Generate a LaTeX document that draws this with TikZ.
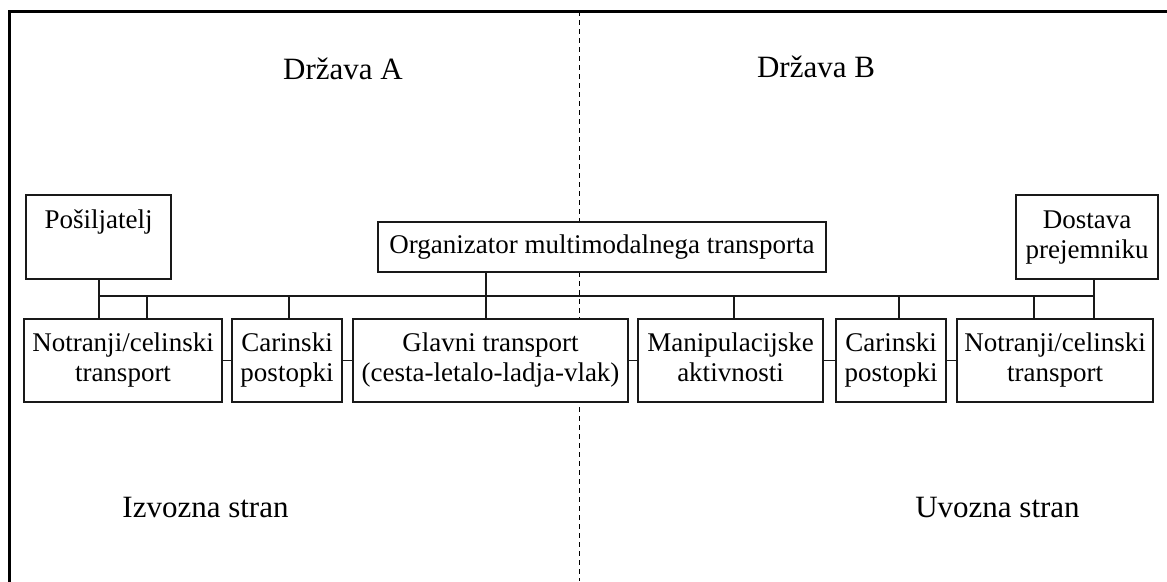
\documentclass[tikz,border=0pt]{standalone}
\usepackage{fontspec}
\setmainfont{Liberation Serif}
\begin{document}
\begin{tikzpicture}[x=1pt,y=-1pt,
  box/.style={draw=black!90, fill=white, line width=1.1pt, inner sep=0pt, align=center,
    font=\fontsize{27}{30}\selectfont},
  head/.style={anchor=base, inner sep=0pt, font=\fontsize{31}{36}\selectfont},
  conn/.style={draw=black!90, line width=1.1pt}]
\useasboundingbox (0,0) rectangle (1167,581);
\clip (0,0) rectangle (1167,581);
% frame and divider
\draw[line width=3pt] (9,1200) -- (9,11) -- (1300,11);
\draw[line width=0.9pt, dash pattern=on 5pt off 4pt] (579,11) -- (579,581);
% headings
\node[head] (dA) at (343,79) {Država A};
\node[head] (dB) at (816,77) {Država B};
\node[head] (iz) at (205.5,517) {Izvozna stran};
\node[head] (uv) at (997.5,517) {Uvozna stran};
% top boxes
\node[box, minimum width=145pt, minimum height=84pt] (pos) at (98.5,237) {\strut Pošiljatelj\\\strut};
\node[box, minimum width=448pt, minimum height=50pt] (org) at (602,247) {\strut Organizator multimodalnega transporta};
\node[box, minimum width=142pt, minimum height=84pt] (dos) at (1087,237) {\strut Dostava\\\strut prejemniku};
% bottom boxes
\node[box, minimum width=198pt, minimum height=83pt] (n1) at (123,360.5) {\strut Notranji/celinski\\\strut transport};
\node[box, minimum width=110pt, minimum height=83pt] (c1) at (287,360.5) {\strut Carinski\\\strut postopki};
\node[box, minimum width=275pt, minimum height=83pt] (gl) at (490.5,360.5) {\strut Glavni transport\\\strut (cesta-letalo-ladja-vlak)};
\node[box, minimum width=185pt, minimum height=83pt] (ma) at (730.5,360.5) {\strut Manipulacijske\\\strut aktivnosti};
\node[box, minimum width=110pt, minimum height=83pt] (c2) at (891,360.5) {\strut Carinski\\\strut postopki};
\node[box, minimum width=196pt, minimum height=83pt] (n2) at (1055,360.5) {\strut Notranji/celinski\\\strut transport};
% bus
\coordinate (bL) at (99,296);
\coordinate (bR) at (1094,296);
\draw[conn] (bL) -- (bR);
\coordinate (b1) at (147,296);
\coordinate (b2) at (289,296);
\coordinate (b3) at (486,296);
\coordinate (b4) at (734,296);
\coordinate (b5) at (899,296);
\coordinate (b6) at (1034,296);
\draw[conn] (pos.south -| bL) -- (bL |- n1.north);
\draw[conn] (b1) -- (b1 |- n1.north);
\draw[conn] (b2) -- (b2 |- c1.north);
\draw[conn] (org.south -| b3) -- (b3 |- gl.north);
\draw[conn] (b4) -- (b4 |- ma.north);
\draw[conn] (b5) -- (b5 |- c2.north);
\draw[conn] (b6) -- (b6 |- n2.north);
\draw[conn] (dos.south -| bR) -- (bR |- n2.north);
% side links
\draw[conn] (n1.east) -- (c1.west);
\draw[conn] (c1.east) -- (gl.west);
\draw[conn] (gl.east) -- (ma.west);
\draw[conn] (ma.east) -- (c2.west);
\draw[conn] (c2.east) -- (n2.west);
\end{tikzpicture}
\end{document}
